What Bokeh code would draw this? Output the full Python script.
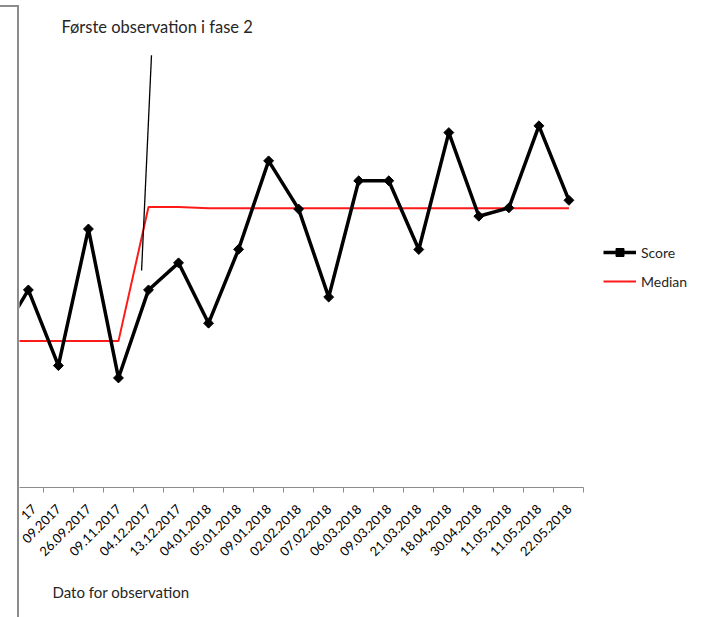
from math import pi
from bokeh.plotting import figure
from bokeh.models import FixedTicker, Legend, LegendItem, Label, Range1d, Title, Div
from bokeh.layouts import row
from bokeh.embed import file_html
from bokeh.resources import INLINE

# ---- data ----
dates = ["21.08.2017", "30.08.2017", "12.09.2017", "26.09.2017", "09.11.2017",
         "04.12.2017", "13.12.2017", "04.01.2018", "05.01.2018", "09.01.2018",
         "02.02.2018", "07.02.2018", "06.03.2018", "09.03.2018", "21.03.2018",
         "18.04.2018", "30.04.2018", "11.05.2018", "11.05.2018", "22.05.2018"]
# tick labels as visible in the (left-cropped) picture
tick_labels = ["", "17", "09.2017"] + dates[3:]
score = [37.0, 49.6, 30.6, 64.9, 27.5,
         49.6, 56.4, 41.25, 59.8, 82.0,
         69.9, 47.8, 77.0, 77.0, 59.75,
         89.1, 68.1, 70.2, 90.8, 72.1]
median = [36.75, 36.75, 36.75, 36.75, 36.75,
          70.4, 70.4, 70.1, 70.1, 70.1,
          70.1, 70.1, 70.1, 70.1, 70.1,
          70.1, 70.1, 70.1, 70.1, 70.1]
x = list(range(len(dates)))

annot_text = "Første observation i fase 2"
annot_pos = (2.10, 115.6)
callout = ([5.10], [108.5], [4.77], [54.5])
xlabel_text = "Dato for observation"

FONT = "Lato"
TXT = "#262626"

p = figure(width=687, height=617,
           x_range=Range1d(0.705, 23.58), y_range=Range1d(0, 120.25),
           output_backend="svg", toolbar_location=None, y_axis_location=None,
           min_border_left=0, min_border_right=0, min_border_top=8,
           min_border_bottom=128)
p.outline_line_color = None
p.grid.grid_line_color = None
p.background_fill_color = "white"
p.border_fill_color = "white"

ax = p.xaxis[0]
ax.bounds = (0.705, 19.5)
ax.ticker = FixedTicker(ticks=x, minor_ticks=[i + 0.5 for i in range(0, len(x))])
ax.major_label_overrides = {i: t for i, t in enumerate(tick_labels)}
ax.major_label_orientation = pi / 4
ax.major_tick_line_color = None
ax.major_tick_out = 0
ax.major_tick_in = 0
ax.minor_tick_out = 5
ax.minor_tick_in = 0
ax.minor_tick_line_color = "#8c8c8c"
ax.axis_line_color = "#8c8c8c"
ax.major_label_text_font = FONT
ax.major_label_text_font_size = "13px"
ax.major_label_text_color = "#000000"
ax.major_label_standoff = 14

med = p.line(x, median, line_color="#ff1a1a", line_width=2)
sl = p.line(x, score, line_color="black", line_width=3.5)
sm = p.scatter(x, score, marker="square", angle=[pi / 4] * len(x), size=7,
               fill_color="black", line_color="black")

p.segment(x0=callout[0], y0=callout[1], x1=callout[2], y1=callout[3],
          line_color="black", line_width=1.3)

p.add_layout(Label(x=annot_pos[0], y=annot_pos[1], text=annot_text,
                   text_font=FONT, text_font_size="16.5px", text_color=TXT,
                   text_baseline="alphabetic"))

p.add_layout(Title(text=xlabel_text, align="left", offset=33, standoff=34,
                   text_font=FONT, text_font_size="15px", text_color=TXT,
                   text_font_style="normal"), "below")

legend = Legend(items=[LegendItem(label="Score", renderers=[sl, sm]),
                       LegendItem(label="Median", renderers=[med])],
                location=(584, 196), glyph_width=33, glyph_height=20,
                label_standoff=5, spacing=9, padding=0, margin=0,
                border_line_color=None, background_fill_alpha=0,
                label_text_font=FONT, label_text_font_size="14px",
                label_text_color=TXT)
p.add_layout(legend)

edge = Div(text='<div style="position:absolute;left:0;top:5px;width:19px;height:612px;'
                'box-sizing:border-box;border-top:2px solid #8c8c8c;'
                'border-right:2px solid #8c8c8c;"></div>',
           width=19, height=617, margin=0)

layout = row(edge, p)
open("out.html", "w").write(file_html(layout, INLINE))
